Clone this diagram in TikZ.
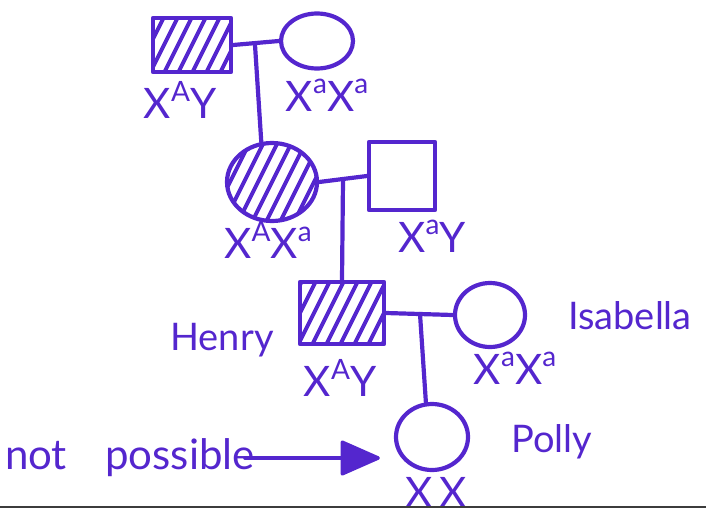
\documentclass[tikz,border=0pt]{standalone}
\usepackage{fontspec}
\setmainfont{Lato}
\usetikzlibrary{shapes.geometric,arrows.meta}
\definecolor{ink}{RGB}{84,38,206}
\definecolor{rule}{RGB}{60,60,60}
% raised allele letter
\newcommand{\gsup}[1]{\raisebox{0.42em}{\fontsize{28}{30}\selectfont #1}}
\begin{document}
\begin{tikzpicture}[x=1pt,y=-1pt,
  pen/.style={draw=ink,line width=4.2pt,line cap=round,line join=round},
  male/.style={pen,rectangle,inner sep=0pt},
  female/.style={pen,ellipse,inner sep=0pt},
  hatch/.style={path picture={
      \foreach \k in {-5,...,5}
        \draw[ink,line width=4pt,line cap=round,shift={(path picture bounding box.center)}]
          (\k*14-25,50) -- ++(50,-100);}},
  geno/.style={text=ink,font=\fontsize{42}{46}\selectfont,inner sep=0pt},
  who/.style={text=ink,font=\fontsize{38}{42}\selectfont,inner sep=0pt},
  rel/.style={pen}]
\useasboundingbox (0,0) rectangle (706,517);

% generation I
\node[male,hatch,minimum width=78pt,minimum height=54pt] (gf) at (192,45) {};
\node[female,minimum width=72pt,minimum height=55pt] (gm) at (317,41) {};
\node[geno] (gfg) at (180,100) {X\gsup{A}Y};
\node[geno] (gmg) at (327,95) {X\gsup{a}X\gsup{a}};

% generation II
\node[female,hatch,minimum width=90pt,minimum height=78pt] (d) at (272,182) {};
\node[male,minimum width=66pt,minimum height=68pt] (hu) at (402,176) {};
\node[geno] (dg) at (268,240) {X\gsup{A}X\gsup{a}};
\node[geno] (hug) at (432,236) {X\gsup{a}Y};

% generation III
\node[male,hatch,minimum width=84pt,minimum height=62pt] (he) at (342,313) {};
\node[female,minimum width=70pt,minimum height=64pt] (is) at (490,315) {};
\node[who] (hen) at (222,340) {Henry};
\node[geno] (heg) at (340,378) {X\gsup{A}Y};
\node[who] (isn) at (630,316) {Isabella};
\node[geno] (isg) at (515,368) {X\gsup{a}X\gsup{a}};

% generation IV
\node[female,minimum width=72pt,minimum height=66pt] (po) at (432,437) {};
\node[who] (pon) at (552,442) {Polly};
\node[geno] (pog) at (436,492) {X\,X};

% annotation
\node[who,font=\fontsize{42}{46}\selectfont] (no) at (36,456) {not};
\node[who,font=\fontsize{42}{46}\selectfont] (ps) at (180,458) {possible};

% marriages and descent
\coordinate (m1) at (255,45);
\coordinate (m2) at (343,180);
\coordinate (m3) at (420,314);
\draw[rel] (gf.east) -- (gm.west);
\draw[rel] (m1) -- (d.105);
\draw[rel] (d.east) -- (hu.west);
\draw[rel] (m2) -- (he.north);
\draw[rel] (he.east) -- (is.west);
\draw[rel] (m3) -- (po.100);

% arrow to Polly
\coordinate (a0) at ([xshift=-10pt]ps.east);
\coordinate (a1) at ([xshift=-14pt]a0 -| po.west);
\draw[pen,line width=3.5pt,-{Triangle[length=42pt,width=36pt,round]}] (a0) -- (a1);

% ruled line at the foot
\coordinate (r0) at (0,507);
\coordinate (r1) at (706,507);
\draw[rule,line width=2pt] (r0) -- (r1);
\end{tikzpicture}
\end{document}
